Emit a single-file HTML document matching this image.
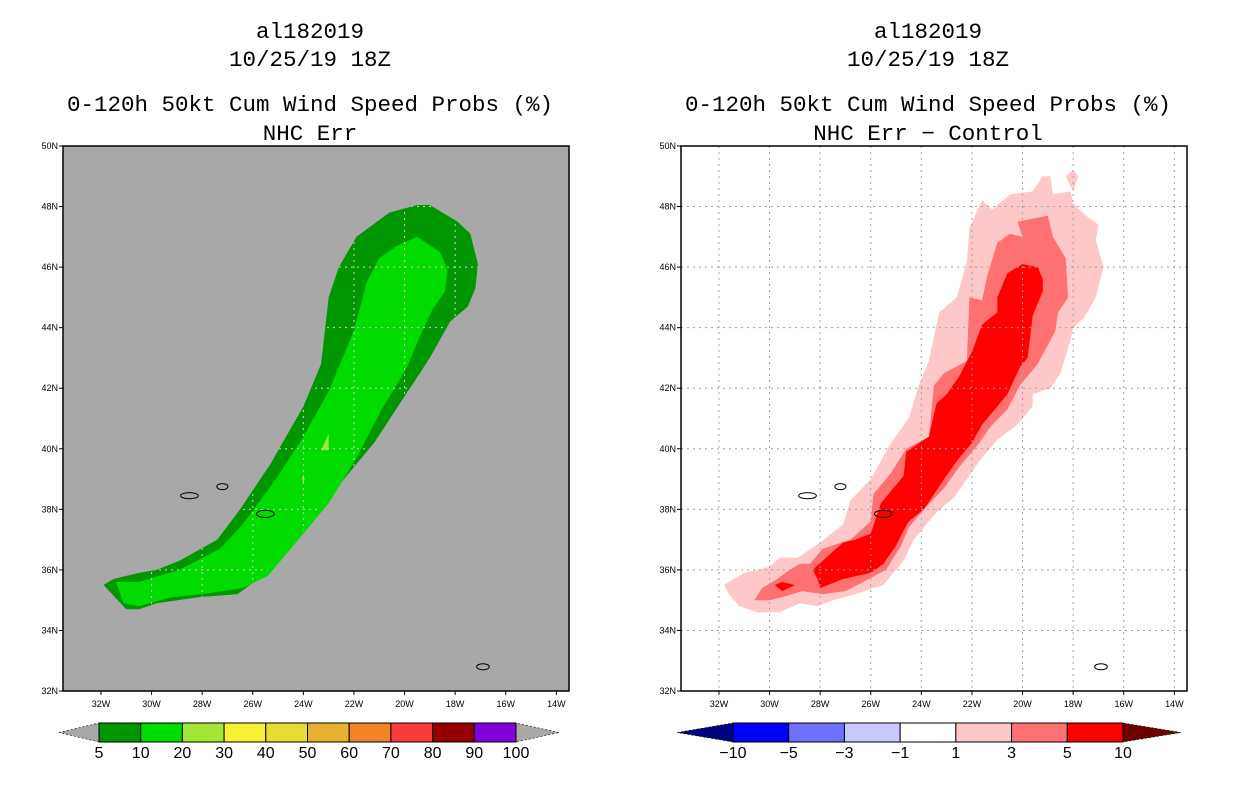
<!DOCTYPE html>
<html><head><meta charset="utf-8"><style>
body{margin:0;background:#fff;width:1236px;height:800px;overflow:hidden;font-family:"Liberation Sans",sans-serif}
svg{position:absolute;left:0;top:0}
</style></head><body>
<svg id="c" width="1236" height="800"></svg>
<script>
// ---- data (lon in deg W, lat in deg N) ----
const lonTicks=[32,30,28,26,24,22,20,18,16,14];
const latTicks=[32,34,36,38,40,42,44,46,48,50];
const probLevels=['5','10','20','30','40','50','60','70','80','90','100'];
const probColors=['#009600','#00dc00','#a0e632','#f8f032','#e6dc32','#e6af2d','#f08228','#fa3c3c','#960000','#8200dc'];
const diffLevels=['-10','-5','-3','-1','1','3','5','10'];
const diffColors=['#0000ff','#7070ff','#c8c8ff','#ffffff','#ffc8c8','#ff7070','#ff0000'];
const prob5=[[31.9,35.5],[31.5,35.7],[31.0,35.8],[30.5,35.9],[29.8,36.0],[28.9,36.3],[27.4,37.0],[26.5,38.0],[25.3,39.5],[24.0,41.4],[23.3,42.8],[23.0,45.0],[22.6,46.0],[21.9,47.0],[20.6,47.8],[19.5,48.05],[19.0,48.05],[17.9,47.5],[17.4,47.1],[17.1,46.1],[17.2,45.3],[17.5,44.7],[18.2,44.2],[19.0,43.0],[20.1,41.6],[21.2,40.2],[22.3,39.1],[24.0,37.3],[25.0,36.3],[25.8,35.7],[26.6,35.2],[28.1,35.1],[29.8,34.9],[30.5,34.7],[31.0,34.7]];
const prob10=[[31.4,35.6],[30.5,35.6],[28.9,36.0],[27.3,36.7],[26.4,37.5],[25.0,39.1],[24.0,40.4],[23.0,41.9],[22.0,43.9],[21.5,45.5],[21.0,46.3],[20.3,46.7],[19.5,47.0],[18.6,46.5],[18.3,45.9],[18.4,45.2],[18.9,44.6],[19.4,43.7],[19.9,42.7],[20.9,41.3],[21.9,39.7],[23.0,38.2],[24.3,36.9],[25.4,35.8],[26.4,35.4],[28.0,35.2],[29.2,35.1],[30.5,34.8],[31.1,34.9]];
const prob20=[[23.3,39.95],[23.0,40.5],[23.0,39.95]];
const prob20b=[[24.05,39.0],[24.0,39.15],[23.95,39.0],[24.0,38.85]];
const diff1=[[31.8,35.5],[31.0,35.9],[30.0,36.1],[29.6,36.4],[28.9,36.4],[28.0,36.9],[27.1,37.5],[26.8,38.3],[26.0,39.0],[25.2,40.2],[24.5,41.0],[24.1,42.1],[23.7,42.9],[23.3,44.5],[22.6,45.0],[22.2,46.2],[22.1,47.3],[21.6,48.2],[21.2,47.9],[20.5,48.4],[19.6,48.5],[19.2,49.0],[18.9,49.0],[18.8,48.4],[18.1,48.5],[18.0,48.1],[17.5,47.7],[17.0,47.4],[17.1,46.9],[16.8,46.0],[17.1,45.0],[17.6,44.3],[18.0,44.0],[18.1,43.6],[18.5,42.5],[18.9,42.0],[19.6,41.8],[19.6,41.4],[20.2,40.8],[21.0,40.3],[21.7,39.6],[22.2,39.0],[22.7,38.4],[23.4,37.9],[23.9,37.4],[24.3,37.0],[24.7,36.3],[25.2,35.8],[25.5,35.5],[26.6,35.2],[27.5,35.0],[28.1,34.8],[28.8,34.9],[29.6,34.6],[30.5,34.6],[31.2,34.8],[31.6,35.2]];
const diff1b=[[18.3,49.0],[18.0,49.2],[17.8,49.0],[18.0,48.5]];
const diff3=[[30.6,35.0],[30.3,35.4],[29.7,35.7],[29.2,36.0],[28.8,36.2],[28.4,36.2],[27.9,36.7],[26.8,37.0],[26.0,37.6],[25.9,38.5],[25.2,39.2],[24.6,40.0],[23.7,40.4],[23.5,42.1],[23.1,42.5],[22.2,42.9],[22.1,45.0],[21.6,44.9],[21.4,45.7],[21.0,46.8],[20.5,47.1],[20.0,47.0],[20.2,47.5],[19.0,47.7],[18.8,47.0],[18.3,46.3],[18.2,45.0],[18.6,44.5],[18.7,43.9],[19.4,42.8],[20.1,42.1],[20.6,41.3],[21.3,40.7],[21.7,40.2],[22.5,39.4],[23.1,38.7],[23.9,38.0],[24.5,37.4],[24.8,36.8],[25.4,36.0],[26.3,35.6],[27.0,35.3],[27.9,35.2],[28.7,35.3],[29.5,35.1],[30.0,35.0]];
const diff5=[[28.3,36.0],[27.9,36.3],[27.1,36.9],[26.6,37.0],[26.0,37.2],[25.6,38.2],[24.7,39.1],[24.6,39.9],[23.7,40.4],[23.4,41.5],[23.0,41.8],[22.5,42.4],[22.0,43.2],[21.6,44.1],[21.0,44.5],[21.0,45.0],[20.6,45.8],[20.0,46.1],[19.4,46.0],[19.2,45.6],[19.2,45.2],[19.4,44.8],[19.6,44.4],[19.8,43.0],[20.1,42.7],[20.6,41.8],[21.0,41.4],[21.6,40.8],[22.0,40.2],[22.6,39.6],[23.1,39.0],[23.9,38.0],[24.5,37.6],[24.7,37.3],[25.0,36.8],[25.5,36.2],[26.0,35.9],[27.1,35.7],[28.0,35.4],[28.1,35.7]];
const diff5b=[[29.8,35.5],[29.5,35.6],[29.0,35.5],[29.5,35.3]];
const islands=[[28.5,38.45,0.35,0.1],[27.2,38.75,0.22,0.1],[25.5,37.85,0.35,0.12],[16.9,32.8,0.25,0.1]];

// ---- layout ----
const NS='http://www.w3.org/2000/svg';
const svg=document.getElementById('c');
const W0=33.5,W1=13.5,S0=32,N0=50,PW=506,PH=545,PY=146;
function el(tag,attrs,parent){const e=document.createElementNS(NS,tag);for(const k in attrs)e.setAttribute(k,attrs[k]);(parent||svg).appendChild(e);return e;}
function txt(x,y,s,size,anchor,parent,fam){const t=el('text',{x:x,y:y,'font-size':size,'text-anchor':anchor||'middle',fill:'#000','font-family':fam||'Liberation Sans, sans-serif'},parent);t.textContent=s;return t;}
function panel(px,title4,fills,gray,gridColor,cid){
  const g=el('g',{});
  
  
  const X=lon=>px+(W0-lon)/(W0-W1)*PW;
  const Y=lat=>PY+(N0-lat)/(N0-S0)*PH;
  const pts=a=>a.map(p=>X(p[0]).toFixed(1)+','+Y(p[1]).toFixed(1)).join(' ');
  [['al182019',38],['10/25/19 18Z',66],['0-120h 50kt Cum Wind Speed Probs (%)',111],[title4,140]].forEach((t,i)=>{
    const e=txt(px+PW/2-6,t[1],t[0],22.5,'middle',g,'Liberation Mono, monospace');
    
    
  });
  el('rect',{x:px,y:PY,width:PW,height:PH,fill:gray},g);
  const cp=el('clipPath',{id:cid+'clip'},g);
  el('polygon',{points:pts(fills[0][0])},cp);
  fills.forEach((f,i)=>{const p=el('polygon',{points:pts(f[0]),fill:f[1]},g);
    
    });
  const gg=el('g',{stroke:gridColor,'stroke-width':1,'stroke-dasharray':'2,4'},g);
  if(gray!=='#ffffff')gg.setAttribute('clip-path','url(#'+cid+'clip)');
  
  
  lonTicks.forEach(l=>el('line',{x1:X(l),x2:X(l),y1:PY,y2:PY+PH},gg));
  latTicks.forEach(l=>el('line',{x1:px,x2:px+PW,y1:Y(l),y2:Y(l)},gg));
  islands.forEach(s=>{el('ellipse',{cx:X(s[0]),cy:Y(s[1]),rx:s[2]*PW/20,ry:s[3]*PH/18,fill:'none',stroke:'#000','stroke-width':1},g);});
  el('rect',{x:px,y:PY,width:PW,height:PH,fill:'none',stroke:'#000','stroke-width':1.5},g);
  lonTicks.forEach(l=>{el('line',{x1:X(l),x2:X(l),y1:PY+PH,y2:PY+PH+4,stroke:'#000'},g);
    const t=txt(X(l),PY+PH+16,l+'W',9,'middle',g);
    
    });
  latTicks.forEach(l=>{el('line',{x1:px-4,x2:px,y1:Y(l),y2:Y(l),stroke:'#000'},g);
    const t=txt(px-5,Y(l)+3,l+'N',9,'end',g);
    
    });
}
function colorbar(x0,x1,t0,t1,cols,labels,lt,rt,name){
  const g=el('g',{});
  
  
  const y0=723,y1=742,ym=732.5,w=(x1-x0)/cols.length;
  el('polygon',{points:`${t0},${ym} ${x0},${y0} ${x0},${y1}`,fill:lt,stroke:'#000','stroke-width':0.6,'stroke-dasharray':'2,2'},g);
  el('polygon',{points:`${t1},${ym} ${x1},${y0} ${x1},${y1}`,fill:rt,stroke:'#000','stroke-width':0.6,'stroke-dasharray':'2,2'},g);
  cols.forEach((c,i)=>el('rect',{x:x0+i*w,y:y0,width:w,height:y1-y0,fill:c,stroke:'#000','stroke-width':1},g));
  labels.forEach((s,i)=>{const t=txt(x0+i*w,758,s.replace('-','\u2212'),16,'middle',g);
    
    });
}
panel(63,'NHC Err',[[prob5,'#009600'],[prob10,'#00dc00'],[prob20,'#a0e632'],[prob20b,'#a0e632']],'#a8a8a8','#d0d0d0','left');
panel(681,'NHC Err \u2212 Control',[[diff1,'#ffc8c8'],[diff1b,'#ffc8c8'],[diff3,'#ff7070'],[diff5,'#ff0000'],[diff5b,'#ff0000']],'#ffffff','#a0a0a0','right');
colorbar(99,516,59,559,probColors,probLevels,'#a8a8a8','#a8a8a8','probability-colorbar');
colorbar(733,1123,677,1181,diffColors,diffLevels,'#000080','#6e0000','difference-colorbar');
</script>
</body></html>
